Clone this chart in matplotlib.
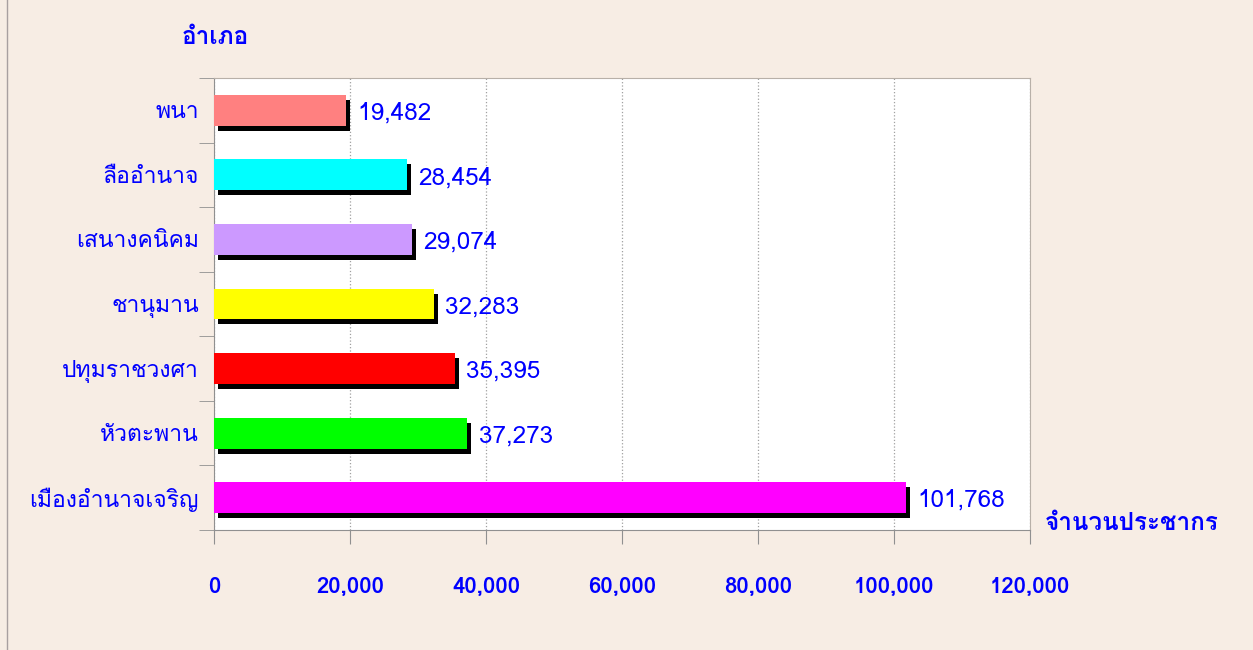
import matplotlib
matplotlib.use('Agg')
import numpy as np
import matplotlib.pyplot as plt
import matplotlib.transforms as mtransforms
from matplotlib.lines import Line2D
from matplotlib.ticker import FuncFormatter

# Data (top to bottom as in the chart)
districts = ['พนา', 'ลืออำนาจ', 'เสนางคนิคม', 'ชานุมาน', 'ปทุมราชวงศา', 'หัวตะพาน', 'เมืองอำนาจเจริญ']
population = [19482, 28454, 29074, 32283, 35395, 37273, 101768]
bar_colors = ['#FF8080', '#00FFFF', '#CC99FF', '#FFFF00', '#FF0000', '#00FF00', '#FF00FF']
x_ticks = [0, 20000, 40000, 60000, 80000, 100000, 120000]

plt.rcParams['font.family'] = ['Tahoma', 'Loma', 'Noto Sans Thai Looped', 'Noto Sans Thai',
                               'Sarabun', 'DejaVu Sans']
blue = '#0000FF'
bg = '#F7EDE4'

fig = plt.figure(figsize=(12.53, 6.5), dpi=100)
fig.patch.set_facecolor(bg)
ax = fig.add_axes([214/1253, 1 - 530/650, (1030 - 214)/1253, (530 - 78)/650])
ax.set_facecolor('white')

ypos = np.arange(len(districts))[::-1]

# shadow bars, shifted right/down a few pixels
shift = mtransforms.ScaledTranslation(4/100, -5/100, fig.dpi_scale_trans)
ax.barh(ypos, population, height=0.48, color='black', zorder=2,
        transform=ax.transData + shift)
ax.barh(ypos, population, height=0.48, color=bar_colors, zorder=3)

for y, v in zip(ypos, population):
    ax.annotate('{:,}'.format(v), xy=(v, y), xytext=(8, -2), textcoords='offset points',
                ha='left', va='center', color=blue, fontsize=17.5, zorder=4)

ax.set_xlim(0, 120000)
ax.set_ylim(-0.5, len(districts) - 0.5)
ax.set_xticks(x_ticks)
ax.xaxis.set_major_formatter(FuncFormatter(lambda v, p: '{:,}'.format(int(v))))
ax.tick_params(axis='x', length=10, color='#909090', pad=24, labelsize=16, labelcolor=blue)
for t in ax.get_xticklabels():
    t.set_fontweight('bold')

ax.set_yticks(ypos)
ax.set_yticklabels(districts)
ax.set_yticks(np.arange(-0.5, len(districts)), minor=True)
ax.tick_params(axis='y', which='major', length=0, pad=11, labelsize=16.5, labelcolor=blue)
ax.tick_params(axis='y', which='minor', length=11, color='#909090')

ax.grid(axis='x', linestyle=':', color='#A0A0A0', linewidth=0.9, zorder=1)
ax.set_axisbelow(True)
for side in ['left', 'bottom']:
    ax.spines[side].set_color('#909090')
for side in ['top', 'right']:
    ax.spines[side].set_color('#B8B0A8')

fig.text(215/1253, 1 - 38/650, 'อำเภอ', color=blue, fontsize=17.5, fontweight='bold',
         ha='center', va='center')
fig.text(1045/1253, 1 - 524/650, 'จำนวนประชากร', color=blue, fontsize=17.5, fontweight='bold',
         ha='left', va='center')

fig.add_artist(Line2D([7/1253, 7/1253], [0, 1], color='#A8A0A0', linewidth=1))

fig.savefig('out.png', dpi=100, facecolor=bg)
